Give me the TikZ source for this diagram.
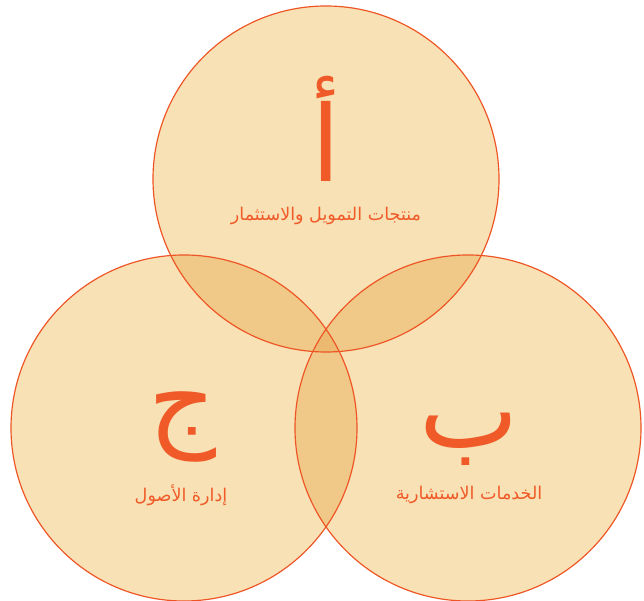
\documentclass[tikz,border=0pt]{standalone}
\usepackage{fontspec}
\newfontfamily\arabicfont[Script=Arabic]{DejaVu Sans}
\TeXXeTstate=1
\definecolor{ringline}{HTML}{EE5424}
\definecolor{ringfill}{HTML}{F7E1B5}
\definecolor{twofill}{HTML}{F0C888}
\definecolor{threefill}{HTML}{EBB970}
\definecolor{labeltext}{HTML}{F05A28}
\tikzset{
  bigletter/.style={text=labeltext, inner sep=0pt, font=\arabicfont\fontsize{90}{90}\selectfont},
  ringlabel/.style={text=labeltext, inner sep=0pt, font=\arabicfont\fontsize{15}{17}\selectfont}
}
\newcommand{\ringr}{5.19cm}
\begin{document}
\begin{tikzpicture}[x=0.03cm,y=-0.03cm]
\useasboundingbox (0,0) rectangle (644,601);
\coordinate (topc) at (326,179);
\coordinate (leftc) at (184,428);
\coordinate (rightc) at (468,428);
% plain discs
\fill[ringfill] (topc) circle[radius=\ringr];
\fill[ringfill] (leftc) circle[radius=\ringr];
\fill[ringfill] (rightc) circle[radius=\ringr];
% overlaps of two
\begin{scope}
\clip (topc) circle[radius=\ringr];
\fill[twofill] (leftc) circle[radius=\ringr];
\fill[twofill] (rightc) circle[radius=\ringr];
\end{scope}
\begin{scope}
\clip (leftc) circle[radius=\ringr];
\fill[twofill] (rightc) circle[radius=\ringr];
\end{scope}
% overlap of three
\begin{scope}
\clip (topc) circle[radius=\ringr];
\clip (leftc) circle[radius=\ringr];
\fill[threefill] (rightc) circle[radius=\ringr];
\end{scope}
\draw[ringline, line width=1pt] (topc) circle[radius=\ringr];
\draw[ringline, line width=1pt] (leftc) circle[radius=\ringr];
\draw[ringline, line width=1pt] (rightc) circle[radius=\ringr];
% letters and labels
\node[bigletter, anchor=base] (alif) at (326,182) {\beginR أ\endR};
\node[ringlabel] (finance) at (326,216) {\beginR منتجات التمويل والاستثمار\endR};
\node[bigletter, anchor=base] (baa) at (469,447) {\beginR ب\endR};
\node[ringlabel] (advice) at (469,495) {\beginR الخدمات الاستشارية\endR};
\node[bigletter] (jeem) at (183,427) {\beginR ج\endR};
\node[ringlabel] (assets) at (181,495) {\beginR إدارة الأصول\endR};
\end{tikzpicture}
\end{document}
